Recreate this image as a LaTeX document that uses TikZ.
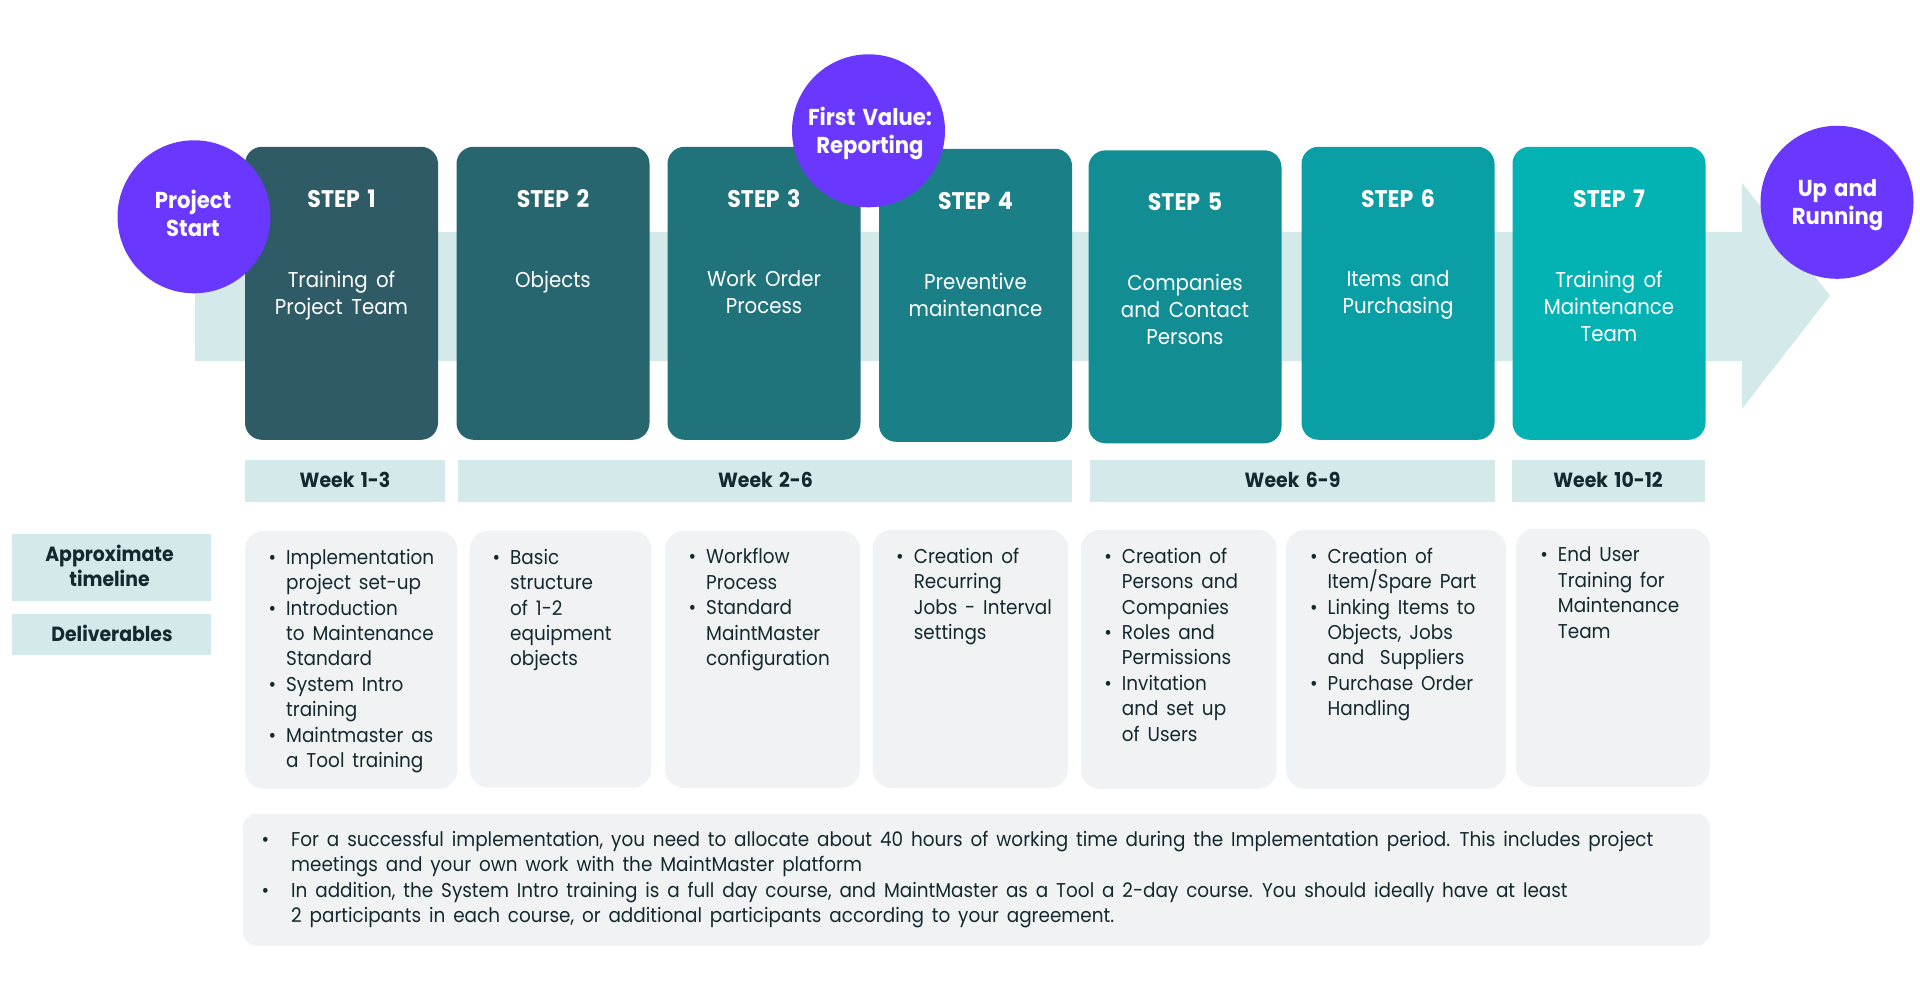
\documentclass[tikz,border=0pt]{standalone}
\usepackage{fontspec}
\setmainfont{Poppins}[FakeStretch=0.92,WordSpace=1.6]
\usepackage{xcolor}
\definecolor{bandteal}{HTML}{D4E9E9}
\definecolor{boxgrey}{HTML}{F1F2F3}
\definecolor{spotpurple}{HTML}{6A37FF}
\definecolor{inkdark}{HTML}{14292E}
\definecolor{stepa}{HTML}{2E5B65}
\definecolor{stepb}{HTML}{28666F}
\definecolor{stepc}{HTML}{20737B}
\definecolor{stepd}{HTML}{1B7F87}
\definecolor{stepe}{HTML}{128D94}
\definecolor{stepf}{HTML}{0A9FA4}
\definecolor{stepg}{HTML}{03B2B2}
\newcommand{\bl}{\llap{\textbullet\hspace{10pt}}}
\tikzset{
  stepbox/.style={rectangle, rounded corners=17pt, inner sep=0pt, minimum width=193pt, minimum height=293pt},
  spot/.style={circle, fill=spotpurple, inner sep=0pt, minimum size=153pt},
  weekbar/.style={rectangle, fill=bandteal, inner sep=0pt, minimum height=42pt},
  listbox/.style={rectangle, fill=boxgrey, rounded corners=19pt, inner sep=0pt},
  steptitle/.style={anchor=base, text=white, inner sep=0pt, font=\fontsize{24}{27}\selectfont\bfseries},
  stepdesc/.style={anchor=north, text=white, inner sep=0pt, align=center, font=\fontsize{21.5}{27}\selectfont},
  spottext/.style={anchor=north, text=white, inner sep=0pt, align=center, font=\fontsize{23}{28.5}\selectfont\bfseries},
  weektext/.style={anchor=base, text=inkdark, inner sep=0pt, align=center, font=\fontsize{20.5}{25.5}\selectfont\bfseries},
  listtext/.style={anchor=north west, text=inkdark, inner sep=0pt, align=left, font=\fontsize{20}{25.4}\selectfont},
}

\begin{document}
\begin{tikzpicture}[x=1pt, y=-1pt]
  \useasboundingbox (0,-0.8) rectangle (1920,999.2);
  % Pale arrow behind the steps
  \fill[bandteal] (195,231) -- (1742,231) -- (1742,182) -- (1830,295) -- (1742,408) -- (1742,360) -- (195,360) -- cycle;
  % Step cards
  \node[stepbox, fill=stepa] (step1) at (341.5,292.5) {};
  \node[stepbox, fill=stepb] (step2) at (553,292.5) {};
  \node[stepbox, fill=stepc] (step3) at (764,292.5) {};
  \node[stepbox, fill=stepd] (step4) at (975.5,294.5) {};
  \node[stepbox, fill=stepe] (step5) at (1185,296) {};
  \node[stepbox, fill=stepf] (step6) at (1398,292.5) {};
  \node[stepbox, fill=stepg] (step7) at (1609,292.5) {};
  % Step titles
  \node[steptitle] (title1) at (341.5,207.2) {STEP 1};
  \node[steptitle] (title2) at (553,207.2) {STEP 2};
  \node[steptitle] (title3) at (764,207.2) {STEP 3};
  \node[steptitle] (title4) at (975.5,209) {STEP 4};
  \node[steptitle] (title5) at (1185,210) {STEP 5};
  \node[steptitle] (title6) at (1398,207.2) {STEP 6};
  \node[steptitle] (title7) at (1609,207.2) {STEP 7};
  % Step descriptions
  \node[stepdesc] (desc1) at (341.5,270) {Training of\\Project Team};
  \node[stepdesc] (desc2) at (553,270) {Objects};
  \node[stepdesc] (desc3) at (764,270) {Work Order\\Process};
  \node[stepdesc] (desc4) at (975.5,272) {Preventive\\maintenance};
  \node[stepdesc] (desc5) at (1185,273) {Companies\\and Contact\\Persons};
  \node[stepdesc] (desc6) at (1398,270) {Items and\\Purchasing};
  \node[stepdesc] (desc7) at (1609,270) {Training of\\Maintenance\\Team};
  % Purple circles
  \node[spot] (start) at (194,216) {};
  \node[spottext] (starttext) at (193,189) {Project\\Start};
  \node[spot] (value) at (868.5,130) {};
  \node[spottext] (valuetext) at (870,106) {First Value:\\Reporting};
  \node[spot] (running) at (1837,201.5) {};
  \node[spottext] (runningtext) at (1837.5,178) {Up and\\Running};
  % Week bars
  \node[weekbar, minimum width=199.5pt] (week1) at (345,480) {};
  \node[weektext] (weektext1) at (345,487) {Week 1-3};
  \node[weekbar, minimum width=614pt] (week2) at (765,480) {};
  \node[weektext] (weektext2) at (765.5,487) {Week 2-6};
  \node[weekbar, minimum width=404.5pt] (week3) at (1292.3,480) {};
  \node[weektext] (weektext3) at (1292.5,487) {Week 6-9};
  \node[weekbar, minimum width=193pt] (week4) at (1608,480) {};
  \node[weektext] (weektext4) at (1608,487) {Week 10-12};
  % Row labels
  \node[weekbar, minimum width=199pt, minimum height=67pt] (rowtime) at (111.5,566.3) {};
  \node[weektext] (rowtimetext) at (109.5,585.7) {Approximate\\timeline};
  \node[weekbar, minimum width=199pt, minimum height=41pt] (rowdeliv) at (111.5,633.8) {};
  \node[weektext] (rowdelivtext) at (112,640.5) {Deliverables};
  % Deliverable cards
  \node[listbox, minimum width=212.4pt, minimum height=258pt] (list1) at (351.2,659) {};
  \node[listbox, minimum width=181.9pt, minimum height=257pt] (list2) at (560.6,658.4) {};
  \node[listbox, minimum width=195pt, minimum height=257pt] (list3) at (762.5,658.5) {};
  \node[listbox, minimum width=195.4pt, minimum height=258pt] (list4) at (970.3,658) {};
  \node[listbox, minimum width=195.6pt, minimum height=259pt] (list5) at (1178.8,658.5) {};
  \node[listbox, minimum width=220pt, minimum height=259pt] (list6) at (1396,658.5) {};
  \node[listbox, minimum width=194pt, minimum height=258pt] (list7) at (1613,657) {};
  \node[listtext] (listtext1) at (286,548) {\bl Implementation\\project set-up\\\bl Introduction\\to Maintenance\\Standard\\\bl System Intro\\training\\\bl Maintmaster as\\a Tool training};
  \node[listtext] (listtext2) at (510,548) {\bl Basic\\structure\\of 1-2\\equipment\\objects};
  \node[listtext] (listtext3) at (706,547.7) {\bl Workflow\\Process\\\bl Standard\\MaintMaster\\configuration};
  \node[listtext] (listtext4) at (913.6,547) {\bl Creation of\\Recurring\\Jobs - Interval\\settings};
  \node[listtext] (listtext5) at (1121.7,547) {\bl Creation of\\Persons and\\Companies\\\bl Roles and\\Permissions\\\bl Invitation\\and set up\\of Users};
  \node[listtext] (listtext6) at (1327.4,547) {\bl Creation of\\Item/Spare Part\\\bl Linking Items to\\Objects, Jobs\\and\ \ Suppliers\\\bl Purchase Order\\Handling};
  \node[listtext] (listtext7) at (1557.7,546) {\bl End User\\Training for\\Maintenance\\Team};
  % Note under the cards
  \node[listbox, rounded corners=14pt, minimum width=1467pt, minimum height=132pt] (note) at (976.5,879) {};
  \node[listtext] (notetext) at (291,830) {\llap{\textbullet\hspace{22pt}}For a successful implementation, you need to allocate about 40 hours of working time during the Implementation period. This includes project\\meetings and your own work with the MaintMaster platform\\\llap{\textbullet\hspace{22pt}}In addition, the System Intro training is a full day course, and MaintMaster as a Tool a 2-day course. You should ideally have at least\\2 participants in each course, or additional participants according to your agreement.};
\end{tikzpicture}
\end{document}
